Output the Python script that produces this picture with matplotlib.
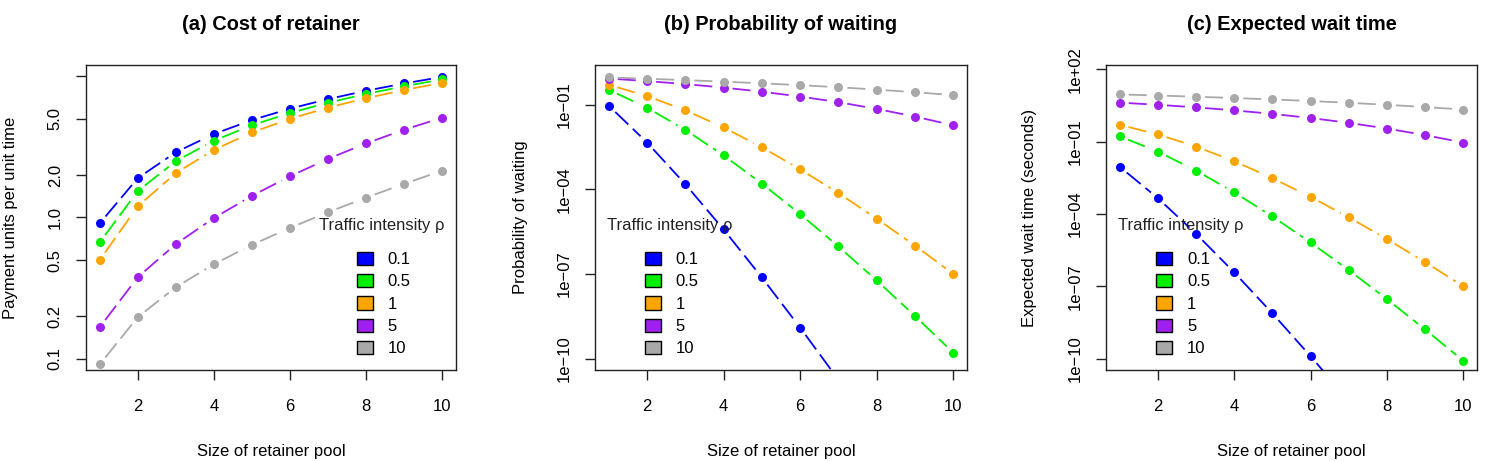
import numpy as np
import matplotlib
matplotlib.use("Agg")
import matplotlib.pyplot as plt
from matplotlib.patches import Patch

plt.rcParams['font.family'] = ['Liberation Sans', 'DejaVu Sans']
plt.rcParams['font.size'] = 12
plt.rcParams['lines.scale_dashes'] = False

# size of retainer pool
pool = [1, 2, 3, 4, 5, 6, 7, 8, 9, 10]
rho_labels = ["0.1", "0.5", "1", "5", "10"]
colors = ["#0000FF", "#00EE00", "#FFA500", "#A020F0", "#A9A9A9"]

# (a) cost of retainer, one list per traffic intensity
cost_01 = [0.909, 1.900, 2.900, 3.900, 4.900, 5.900, 6.900, 7.900, 8.900, 9.900]
cost_05 = [0.667, 1.538, 2.506, 3.501, 4.500, 5.500, 6.500, 7.500, 8.500, 9.500]
cost_1 = [0.500, 1.200, 2.063, 3.015, 4.003, 5.001, 6.000, 7.000, 8.000, 9.000]
cost_5 = [0.167, 0.378, 0.648, 0.992, 1.424, 1.959, 2.603, 3.350, 4.187, 5.092]
cost_10 = [0.091, 0.197, 0.321, 0.467, 0.640, 0.845, 1.090, 1.383, 1.732, 2.146]

# (b) probability of waiting
pw_01 = [9.09e-2, 4.52e-3, 1.51e-4, 3.77e-6, 7.54e-8, 1.26e-9, 1.80e-11, 2.24e-13, 2.49e-15, 2.49e-17]
pw_05 = [3.33e-1, 7.69e-2, 1.27e-2, 1.58e-3, 1.58e-4, 1.32e-5, 9.40e-7, 5.88e-8, 3.26e-9, 1.63e-10]
pw_1 = [5.0e-1, 2.0e-1, 6.25e-2, 1.54e-2, 3.07e-3, 5.11e-4, 7.30e-5, 9.12e-6, 1.01e-6, 1.01e-7]
pw_5 = [0.833, 0.676, 0.530, 0.398, 0.285, 0.192, 0.121, 0.0700, 0.0375, 0.0184]
pw_10 = [0.909, 0.820, 0.732, 0.647, 0.564, 0.485, 0.409, 0.338, 0.273, 0.215]

# (c) expected wait time (seconds)
wt_01 = [9.09e-3, 4.52e-4, 1.51e-5, 3.77e-7, 7.54e-9, 1.26e-10, 1.80e-12, 2.24e-14, 2.49e-16, 2.49e-18]
wt_05 = [1.67e-1, 3.85e-2, 6.33e-3, 7.90e-4, 7.90e-5, 6.58e-6, 4.70e-7, 2.94e-8, 1.63e-9, 8.16e-11]
wt_1 = [5.0e-1, 2.0e-1, 6.25e-2, 1.54e-2, 3.07e-3, 5.11e-4, 7.30e-5, 9.12e-6, 1.01e-6, 1.01e-7]
wt_5 = [4.17, 3.38, 2.65, 1.99, 1.42, 0.959, 0.603, 0.350, 0.187, 0.0919]
wt_10 = [9.09, 8.20, 7.32, 6.47, 5.64, 4.85, 4.09, 3.38, 2.73, 2.15]

titles = ["(a) Cost of retainer", "(b) Probability of waiting", "(c) Expected wait time"]
ylabels = ["Payment units per unit time", "Probability of waiting", "Expected wait time (seconds)"]

W, H = 1485, 461
fig = plt.figure(figsize=(W / 100, H / 100), dpi=100)


def add_panel(left, right, top=65, bottom=370):
    return fig.add_axes([left / W, 1 - bottom / H, (right - left) / W, (bottom - top) / H])


def plot_b(ax, x, y, color, gap=9):
    # R-style type="b": dashed segments that stop short of each point
    pts = ax.transData.transform(np.column_stack([x, y]))
    inv = ax.transData.inverted()
    for p0, p1 in zip(pts[:-1], pts[1:]):
        d = p1 - p0
        L = np.hypot(*d)
        if L <= 2 * gap:
            continue
        u = d / L
        seg = inv.transform(np.array([p0 + u * gap, p1 - u * gap]))
        ax.plot(seg[:, 0], seg[:, 1], color=color, lw=1.3, dashes=(13, 4.5),
                solid_capstyle='butt', dash_capstyle='butt', zorder=2)
    ax.plot(x, y, 'o', color=color, markersize=6.5, markeredgewidth=0, zorder=3)


panels = [
    dict(pos=(86, 456), data=[cost_01, cost_05, cost_1, cost_5, cost_10],
         ylim=(10 ** -1.08, 10 ** 1.08),
         yticks=[0.1, 0.2, 0.5, 1, 2, 5, 10],
         yticklabels=["0.1", "0.2", "0.5", "1.0", "2.0", "5.0", ""],
         leg_x=0.732, title_x=0.80, ylab_x=-0.185),
    dict(pos=(595, 967), data=[pw_01, pw_05, pw_1, pw_5, pw_10],
         ylim=(10 ** -10.4, 10 ** 0.4),
         yticks=[1e-10, 1e-7, 1e-4, 1e-1],
         yticklabels=["1e\u221210", "1e\u221207", "1e\u221204", "1e\u221201"],
         leg_x=0.134, title_x=0.2016, ylab_x=-0.181),
    dict(pos=(1106, 1477), data=[wt_01, wt_05, wt_1, wt_5, wt_10],
         ylim=(10 ** -10.47, 10 ** 2.18),
         yticks=[1e-10, 1e-7, 1e-4, 1e-1, 1e2],
         yticklabels=["1e\u221210", "1e\u221207", "1e\u221204", "1e\u221201", "1e+02"],
         leg_x=0.135, title_x=0.2008, ylab_x=-0.185),
]

for i, p in enumerate(panels):
    ax = add_panel(*p['pos'])
    ax.set_yscale('log')
    ax.set_xlim(0.64, 10.36)
    ax.set_ylim(*p['ylim'])
    ax.set_xticks([2, 4, 6, 8, 10])
    ax.set_yticks(p['yticks'])
    ax.set_yticklabels(p['yticklabels'])
    ax.yaxis.set_minor_locator(matplotlib.ticker.NullLocator())
    ax.tick_params(axis='both', length=7.2, width=1.0, color='#222222')
    ax.tick_params(axis='x', pad=13.5)
    ax.tick_params(axis='y', pad=9.5, labelrotation=90)
    for lab in ax.get_yticklabels():
        lab.set_verticalalignment('center')
    for s in ax.spines.values():
        s.set_linewidth(1.0)
        s.set_color('#222222')

    for series, c in zip(p['data'], colors):
        plot_b(ax, pool, series, c)

    ax.set_title(titles[i], fontweight='bold', fontsize=14.4, pad=25.5)
    ax.set_xlabel("Size of retainer pool")
    ax.xaxis.set_label_coords(0.5, -0.244)
    ax.set_ylabel(ylabels[i])
    ax.yaxis.set_label_coords(p['ylab_x'], 0.5)

    handles = [Patch(facecolor=c, edgecolor='black', linewidth=1.0) for c in colors]
    ax.legend(handles, rho_labels, loc='upper left', bbox_to_anchor=(p['leg_x'], 0.388),
              frameon=False, borderpad=0, borderaxespad=0, handlelength=0.96,
              handleheight=0.84, handletextpad=0.9, labelspacing=0.42)
    ax.text(p['title_x'], 0.475, "Traffic intensity \u03c1", transform=ax.transAxes,
            ha='center', va='center', color='#222222')

fig.savefig("out.png", dpi=100)
